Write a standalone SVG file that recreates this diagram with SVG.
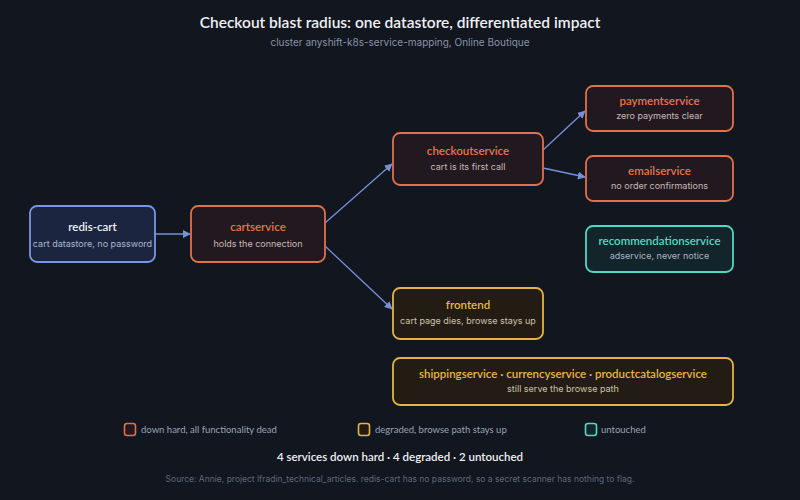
<svg xmlns="http://www.w3.org/2000/svg" width="800" height="500" viewBox="0 0 800 500">
<style>
text{font-family:Inter,"Noto Sans","Liberation Sans",sans-serif;text-anchor:middle}
.t{font-size:11.5px;font-weight:600;font-family:Lato,Inter,sans-serif}
.s{font-size:9px}
.down rect{fill:#21191f;stroke:#e0714b;stroke-width:1.8}
.down .t{fill:#e8744c}
.down .s{fill:#c9b9b6}
.deg rect{fill:#221c14;stroke:#e3b445;stroke-width:1.8}
.deg .t{fill:#e8b74a}
.deg .s{fill:#cfc3a8}
.unt rect{fill:#13252a;stroke:#4fd8c3;stroke-width:1.8}
.unt .t{fill:#55d9c4}
.unt .s{fill:#aab4c4}
.src rect{fill:#1b2540;stroke:#7b95e3;stroke-width:1.8}
.src .t{fill:#eef0f6}
.src .s{fill:#aeb6cc}
.edge{stroke:#7890db;stroke-width:1.3;fill:none;marker-end:url(#ah)}
.lg{font-size:9.5px;fill:#9aa3b5;text-anchor:start;font-family:Lato,Inter,sans-serif}
</style>
<defs>
<marker id="ah" viewBox="0 0 10 10" refX="9" refY="5" markerWidth="8" markerHeight="8" orient="auto" markerUnits="userSpaceOnUse">
<path d="M0,0 L10,5 L0,10 z" fill="#7890db"/>
</marker>
</defs>
<rect width="800" height="500" fill="#11161f"/>
<text x="400" y="28" style="font-size:15.5px;font-weight:600;fill:#eef0f4;font-family:Lato,Inter,sans-serif">Checkout blast radius: one datastore, differentiated impact</text>
<text x="400" y="46" style="font-size:10px;fill:#8a93a8">cluster anyshift-k8s-service-mapping, Online Boutique</text>

<g id="connectors">
<path class="edge" d="M155,234 L190,234"/>
<path class="edge" d="M325,223 L392,164"/>
<path class="edge" d="M325,246 L392,309"/>
<path class="edge" d="M543,150 L585,111"/>
<path class="edge" d="M543,168 L585,177"/>
</g>

<g id="redis-cart" class="src">
<rect x="30" y="206" width="125" height="56" rx="7"/>
<text class="t" x="92.5" y="231">redis-cart</text>
<text class="s" x="92.5" y="247">cart datastore, no password</text>
</g>
<g id="cartservice" class="down">
<rect x="191" y="206" width="134" height="56" rx="7"/>
<text class="t" x="258" y="231">cartservice</text>
<text class="s" x="258" y="247">holds the connection</text>
</g>
<g id="checkoutservice" class="down">
<rect x="393" y="133" width="150" height="52" rx="7"/>
<text class="t" x="468" y="155">checkoutservice</text>
<text class="s" x="468" y="170">cart is its first call</text>
</g>
<g id="paymentservice" class="down">
<rect x="586" y="86" width="147" height="45" rx="7"/>
<text class="t" x="659.5" y="105">paymentservice</text>
<text class="s" x="659.5" y="119">zero payments clear</text>
</g>
<g id="emailservice" class="down">
<rect x="586" y="156" width="147" height="45" rx="7"/>
<text class="t" x="659.5" y="175">emailservice</text>
<text class="s" x="659.5" y="189">no order confirmations</text>
</g>
<g id="recommendationservice" class="unt">
<rect x="586" y="226" width="147" height="46" rx="7"/>
<text class="t" x="659.5" y="245">recommendationservice</text>
<text class="s" x="659.5" y="259">adservice, never notice</text>
</g>
<g id="frontend" class="deg">
<rect x="393" y="288" width="150" height="51" rx="7"/>
<text class="t" x="468" y="309">frontend</text>
<text class="s" x="468" y="324">cart page dies, browse stays up</text>
</g>
<g id="browse-path" class="deg">
<rect x="393" y="358" width="340" height="47" rx="7"/>
<text class="t" x="563" y="378">shippingservice · currencyservice · productcatalogservice</text>
<text class="s" x="563" y="392">still serve the browse path</text>
</g>

<g id="legend">
<rect x="124.5" y="423.5" width="11" height="12" rx="2.5" fill="#21191f" stroke="#e0714b" stroke-width="1.6"/>
<text class="lg" x="141" y="433">down hard, all functionality dead</text>
<rect x="358.5" y="423.5" width="11" height="12" rx="2.5" fill="#221c14" stroke="#e3b445" stroke-width="1.6"/>
<text class="lg" x="375" y="433">degraded, browse path stays up</text>
<rect x="585.5" y="423.5" width="11" height="12" rx="2.5" fill="#13252a" stroke="#4fd8c3" stroke-width="1.6"/>
<text class="lg" x="601" y="433">untouched</text>
</g>
<text x="400" y="461" style="font-size:11.5px;font-weight:600;fill:#eef0f4;font-family:Lato,Inter,sans-serif">4 services down hard · 4 degraded · 2 untouched</text>
<text x="400" y="482" style="font-size:8.5px;fill:#5f6879">Source: Annie, project lfradin_technical_articles. redis-cart has no password, so a secret scanner has nothing to flag.</text>
</svg>
